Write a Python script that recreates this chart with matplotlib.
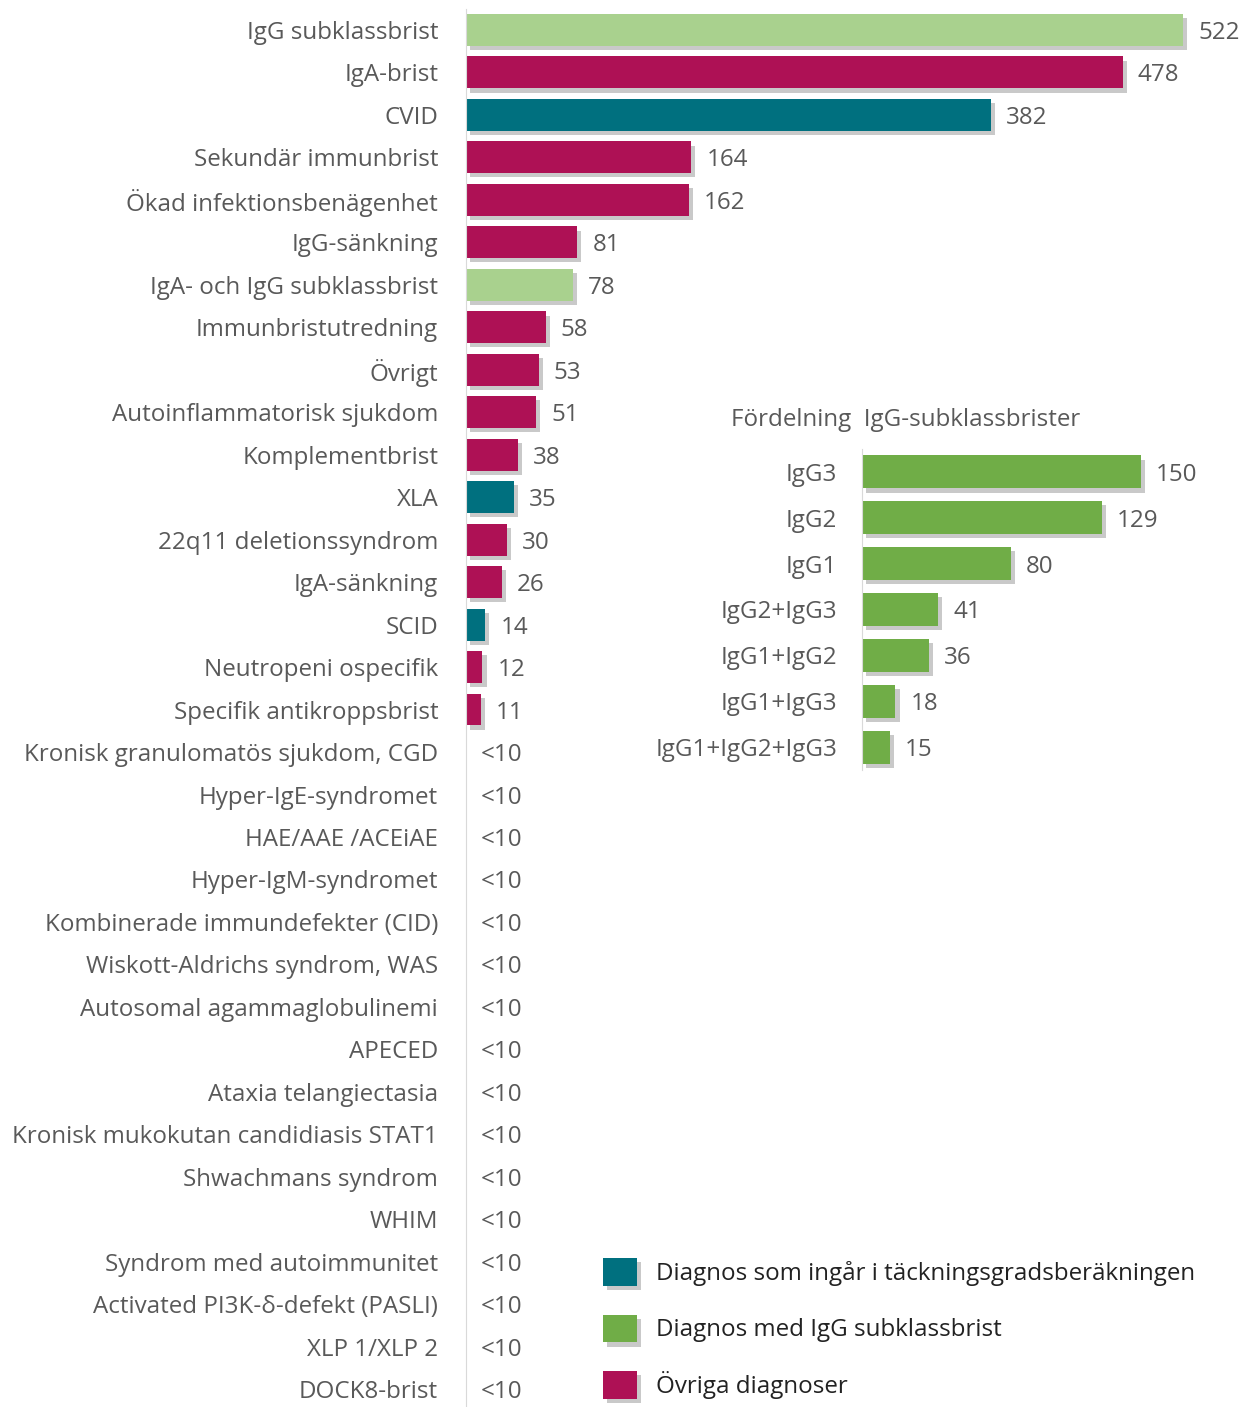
import matplotlib
matplotlib.use("Agg")
from matplotlib import pyplot as plt
from matplotlib import patheffects as pe
from matplotlib.patches import Patch

plt.rcParams['font.family'] = ['Open Sans', 'DejaVu Sans']

# main chart data
diagnoses = [
    "IgG subklassbrist", "IgA-brist", "CVID", "Sekundär immunbrist",
    "Ökad infektionsbenägenhet", "IgG-sänkning", "IgA- och IgG subklassbrist",
    "Immunbristutredning", "Övrigt", "Autoinflammatorisk sjukdom",
    "Komplementbrist", "XLA", "22q11 deletionssyndrom", "IgA-sänkning",
    "SCID", "Neutropeni ospecifik", "Specifik antikroppsbrist",
    "Kronisk granulomatös sjukdom, CGD", "Hyper-IgE-syndromet",
    "HAE/AAE /ACEiAE", "Hyper-IgM-syndromet", "Kombinerade immundefekter (CID)",
    "Wiskott-Aldrichs syndrom, WAS", "Autosomal agammaglobulinemi", "APECED",
    "Ataxia telangiectasia", "Kronisk mukokutan candidiasis STAT1",
    "Shwachmans syndrom", "WHIM", "Syndrom med autoimmunitet",
    "Activated PI3K-δ-defekt (PASLI)", "XLP 1/XLP 2", "DOCK8-brist",
]
counts = [522, 478, 382, 164, 162, 81, 78, 58, 53, 51, 38, 35, 30, 26, 14, 12, 11] + [0] * 16
groups = ["igg", "ovr", "tack", "ovr", "ovr", "ovr", "igg", "ovr", "ovr", "ovr",
          "ovr", "tack", "ovr", "ovr", "tack", "ovr", "ovr"] + ["ovr"] * 16

# inset data
subclasses = ["IgG3", "IgG2", "IgG1", "IgG2+IgG3", "IgG1+IgG2", "IgG1+IgG3", "IgG1+IgG2+IgG3"]
sub_counts = [150, 129, 80, 41, 36, 18, 15]

colors = {"igg": "#a9d18e", "ovr": "#ae1155", "tack": "#00707f"}
green = "#70ad47"
txt = "#595959"
fs = 17.4
W, H = 1254, 1407

shadow = [pe.SimplePatchShadow(offset=(3, -3), shadow_rgbFace="#888888", alpha=0.45), pe.Normal()]

fig = plt.figure(figsize=(W / 100, H / 100), dpi=100)

# main axes
n = len(diagnoses)
x0, x1 = 466, 1235
ax = fig.add_axes([x0 / W, 0, (x1 - x0) / W, (H - 8.7) / H])
ax.set_xlim(0, (x1 - x0) / 1.3736)
ax.set_ylim(n - 1 + 0.42, -0.5)
ypos = list(range(n))
bars = ax.barh(ypos, counts, height=0.75, color=[colors[g] for g in groups])
for b in bars:
    if b.get_width() > 0:
        b.set_path_effects(shadow)
for y, v in zip(ypos, counts):
    lab = str(v) if v >= 10 else "<10"
    ax.text(v + 11, y, lab, va="center_baseline", ha="left", fontsize=fs, color=txt)
ax.set_yticks(ypos)
ax.set_yticklabels(diagnoses, fontsize=fs, color=txt)
ax.tick_params(axis="y", length=0, pad=20)
ax.set_xticks([])
for s in ["top", "right", "bottom"]:
    ax.spines[s].set_visible(False)
ax.spines["left"].set_color("#d9d9d9")

# inset axes
ix0, ix1 = 862, 1190
itop, ibot = 449, 770
ax2 = fig.add_axes([ix0 / W, 1 - ibot / H, (ix1 - ix0) / W, (ibot - itop) / H])
ax2.set_xlim(0, (ix1 - ix0) / 1.86)
ax2.set_ylim(len(subclasses) - 0.5, -0.5)
ys = list(range(len(subclasses)))
bars2 = ax2.barh(ys, sub_counts, height=0.72, color=green)
for b in bars2:
    b.set_path_effects(shadow)
for y, v in zip(ys, sub_counts):
    ax2.text(v + 8, y, str(v), va="center_baseline", ha="left", fontsize=fs, color=txt)
ax2.set_yticks(ys)
ax2.set_yticklabels(subclasses, fontsize=fs, color=txt)
ax2.tick_params(axis="y", length=0, pad=18)
ax2.set_xticks([])
for s in ["top", "right", "bottom"]:
    ax2.spines[s].set_visible(False)
ax2.spines["left"].set_color("#d9d9d9")
fig.text(731 / W, 1 - 417 / H, "Fördelning  IgG-subklassbrister", fontsize=fs,
         color=txt, ha="left", va="center_baseline")

# legend
handles = [Patch(facecolor=colors["tack"]), Patch(facecolor=green), Patch(facecolor=colors["ovr"])]
labels = ["Diagnos som ingår i täckningsgradsberäkningen", "Diagnos med IgG subklassbrist",
          "Övriga diagnoser"]
leg = fig.legend(handles, labels, loc="upper left", bbox_to_anchor=(603 / W, 1 - 1258 / H),
                 frameon=False, fontsize=fs, handlelength=1.4, handleheight=1.4,
                 labelspacing=1.18, handletextpad=0.8, borderpad=0, borderaxespad=0)
for t in leg.get_texts():
    t.set_color("#222222")
for h in leg.legend_handles:
    h.set_path_effects(shadow)

fig.savefig("out.png", dpi=100)
